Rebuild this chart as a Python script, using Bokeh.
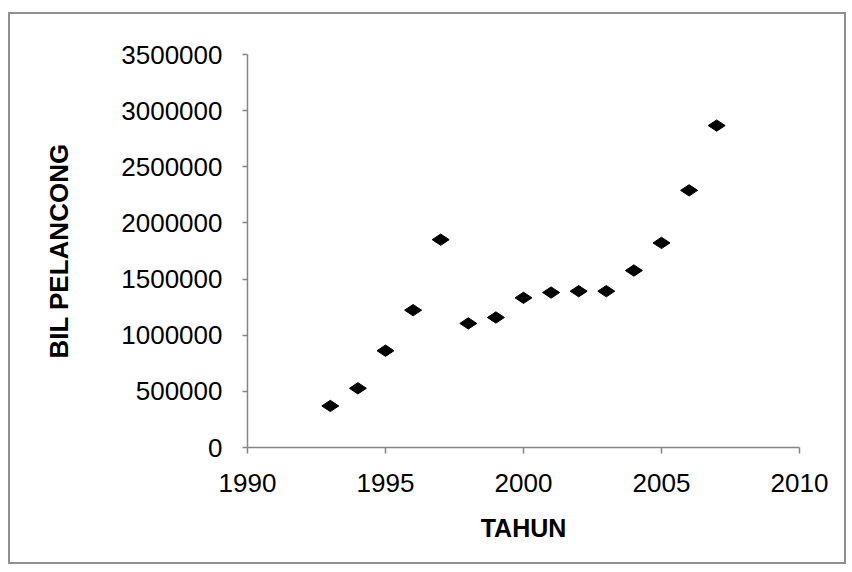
import numpy as np
from bokeh.plotting import figure
from bokeh.models import FixedTicker, BasicTickFormatter, Range1d
from bokeh.embed import file_html
from bokeh.resources import INLINE

# Data
years = [1993, 1994, 1995, 1996, 1997, 1998, 1999, 2000, 2001, 2002, 2003, 2004, 2005, 2006, 2007]
tourists = [370000, 527000, 862000, 1223000, 1851000, 1105000, 1158000, 1333000,
            1380000, 1392000, 1392000, 1576000, 1822000, 2290000, 2867000]
x_ticks = [1990, 1995, 2000, 2005, 2010]
y_ticks = [0, 500000, 1000000, 1500000, 2000000, 2500000, 3000000, 3500000]
x_title = "TAHUN"
y_title = "BIL PELANCONG"

FONT = "Liberation Sans"
AXIS_GREY = "#858585"

p = figure(width=838, height=552, output_backend="svg", toolbar_location=None,
           x_range=Range1d(1990, 2010), y_range=Range1d(0, 3500000),
           min_border_left=237, min_border_right=49, min_border_top=40, min_border_bottom=119)
p.styles = {"border": "2px solid #8f8f8f", "margin-top": "12px", "margin-left": "8px"}

p.outline_line_color = None
p.xgrid.visible = False
p.ygrid.visible = False
p.background_fill_color = "white"
p.border_fill_color = "white"

p.scatter(years, tourists, marker="diamond", size=17, angle=np.pi / 2,
          fill_color="black", line_color="black")

# x axis
xa = p.xaxis[0]
xa.ticker = FixedTicker(ticks=x_ticks)
xa.axis_label = x_title
xa.axis_label_text_font = FONT
xa.axis_label_text_font_style = "bold"
xa.axis_label_text_font_size = "25px"
xa.axis_label_text_color = "black"
xa.axis_label_standoff = 19
xa.major_label_text_font = FONT
xa.major_label_text_font_size = "26px"
xa.major_label_text_color = "black"
xa.major_label_standoff = 20
xa.axis_line_color = AXIS_GREY
xa.axis_line_width = 1.5
xa.major_tick_line_color = AXIS_GREY
xa.major_tick_line_width = 1.5
xa.major_tick_in = 0
xa.major_tick_out = 6
xa.minor_tick_line_color = None

# y axis
ya = p.yaxis[0]
ya.ticker = FixedTicker(ticks=y_ticks)
ya.formatter = BasicTickFormatter(use_scientific=False)
ya.axis_label = y_title
ya.axis_label_text_font = FONT
ya.axis_label_text_font_style = "bold"
ya.axis_label_text_font_size = "26px"
ya.axis_label_text_color = "black"
ya.axis_label_standoff = 44
ya.major_label_text_font = FONT
ya.major_label_text_font_size = "26px"
ya.major_label_text_color = "black"
ya.major_label_standoff = 20
ya.axis_line_color = AXIS_GREY
ya.axis_line_width = 1.5
ya.major_tick_line_color = AXIS_GREY
ya.major_tick_line_width = 1.5
ya.major_tick_in = 0
ya.major_tick_out = 5
ya.minor_tick_line_color = None

open("out.html", "w").write(file_html(p, INLINE))
